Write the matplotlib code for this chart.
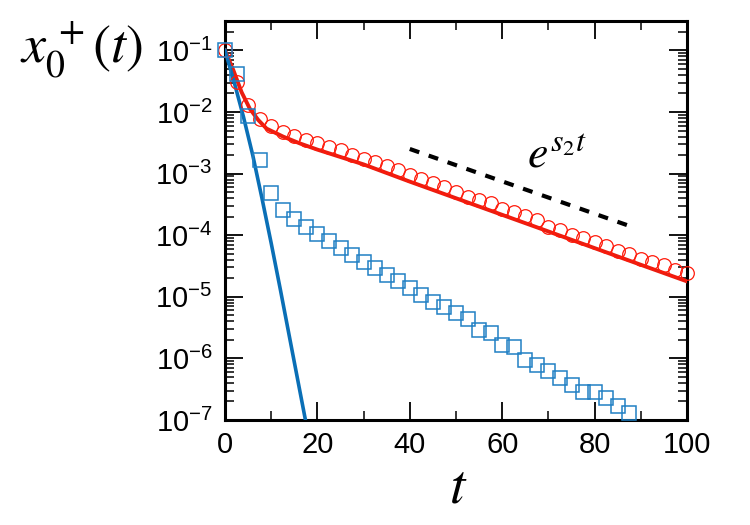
import math
import matplotlib
matplotlib.use("Agg")
import matplotlib.pyplot as plt
from matplotlib.ticker import LogLocator, MultipleLocator, FuncFormatter, NullFormatter

plt.rcParams['font.family'] = ['Liberation Sans', 'DejaVu Sans']
plt.rcParams['mathtext.fontset'] = 'custom'
plt.rcParams['mathtext.rm'] = 'Liberation Sans'
plt.rcParams['mathtext.default'] = 'it'

# red circles (sampled every 2.5)
t_circ = [0, 2.5, 5, 7.5, 10, 12.5, 15, 17.5, 20, 22.5, 25, 27.5, 30, 32.5, 35,
          37.5, 40, 42.5, 45, 47.5, 50, 52.5, 55, 57.5, 60, 62.5, 65, 67.5, 70,
          72.5, 75, 77.5, 80, 82.5, 85, 87.5, 90, 92.5, 95, 97.5, 100]
x_circ = [1.0e-1, 3.09e-2, 1.29e-2, 7.76e-3, 5.89e-3, 4.68e-3, 4.07e-3, 3.55e-3,
          3.16e-3, 2.69e-3, 2.40e-3, 2.04e-3, 1.74e-3, 1.55e-3, 1.35e-3, 1.15e-3,
          9.55e-4, 8.13e-4, 7.08e-4, 6.03e-4, 5.01e-4, 4.17e-4, 3.72e-4, 3.31e-4,
          2.69e-4, 2.40e-4, 2.04e-4, 1.74e-4, 1.38e-4, 1.20e-4, 1.02e-4, 8.91e-5,
          7.76e-5, 6.61e-5, 5.50e-5, 5.01e-5, 4.17e-5, 3.72e-5, 3.31e-5, 2.69e-5,
          2.40e-5]

# blue squares
t_sq = [0, 2.5, 5, 7.5, 10, 12.5, 15, 17.5, 20, 22.5, 25, 27.5, 30, 32.5, 35,
        37.5, 40, 42.5, 45, 47.5, 50, 52.5, 55, 57.5, 60, 62.5, 65, 67.5, 70,
        72.5, 75, 77.5, 80, 82.5, 85, 87.5]
x_sq = [1.0e-1, 4.07e-2, 8.7e-3, 1.66e-3, 4.9e-4, 2.57e-4, 1.82e-4, 1.38e-4,
        1.05e-4, 7.94e-5, 6.31e-5, 4.79e-5, 3.72e-5, 2.88e-5, 2.24e-5, 1.78e-5,
        1.38e-5, 1.07e-5, 8.32e-6, 6.76e-6, 5.37e-6, 4.37e-6, 2.88e-6, 2.57e-6,
        1.66e-6, 1.55e-6, 9.55e-7, 7.76e-7, 6.17e-7, 4.79e-7, 3.72e-7, 2.82e-7,
        2.82e-7, 2.24e-7, 1.66e-7, 1.29e-7]

# red theory curve
t_red = [0, 1.8, 3.6, 5.4, 7.2, 9, 12.6, 16.2, 20, 30, 40, 50, 60, 70, 80, 90, 100]
x_red = [1e-1, 4.79e-2, 2.09e-2, 1.12e-2, 7.41e-3, 5.37e-3, 3.98e-3, 3.09e-3,
         2.45e-3, 1.41e-3, 7.41e-4, 3.98e-4, 2.14e-4, 1.15e-4, 6.17e-5, 3.31e-5,
         1.78e-5]

# blue theory curve
t_blue = [0, 2, 4, 6, 8, 10, 12, 14, 16, 18]
x_blue = [1e-1, 3.02e-2, 8.32e-3, 2.0e-3, 3.98e-4, 7.41e-5, 1.29e-5, 2.14e-6,
          3.55e-7, 5.89e-8]

# guide line e^{s2 t}
t_guide = [40, 88.3]
x_guide = [2.51e-3, 1.35e-4]

fig = plt.figure(figsize=(7.5, 5.25), dpi=100)
ax = fig.add_axes([0.30, 0.20, 0.616, 0.76])

ax.plot(t_red, x_red, color='#ea1d10', lw=2.8, zorder=3)
ax.plot(t_blue, x_blue, color='#0a6fb6', lw=2.6, zorder=3)
ax.plot(t_circ, x_circ, ls='none', marker='o', ms=9.8, mfc='none',
        mec='#ff1a0a', mew=0.9, clip_on=False, zorder=4)
ax.plot(t_sq, x_sq, ls='none', marker='s', ms=9.5, mfc='none',
        mec='#2080c4', mew=1.1, clip_on=False, zorder=4)
ax.plot(t_guide, x_guide, color='black', lw=3, dashes=(2.4, 2.4), zorder=3)

ax.set_yscale('log')
ax.set_xlim(0, 100)
ax.set_ylim(1e-7, 0.3)

ax.xaxis.set_major_locator(MultipleLocator(20))
ax.xaxis.set_minor_locator(MultipleLocator(10))
ax.yaxis.set_major_locator(LogLocator(base=10, numticks=20))
ax.yaxis.set_minor_locator(LogLocator(base=10, subs=range(2, 10), numticks=20))
ax.yaxis.set_major_formatter(FuncFormatter(
    lambda v, p: r'$\mathregular{10^{%d}}$' % round(math.log10(v))))
ax.yaxis.set_minor_formatter(NullFormatter())

ax.tick_params(which='both', direction='in', top=True, right=True, labelsize=21)
ax.tick_params(which='major', length=13, width=1.3)
ax.tick_params(which='minor', length=6.5, width=1.1)
ax.tick_params(axis='y', which='major', pad=9)
ax.tick_params(axis='x', which='major', pad=8)
for s in ax.spines.values():
    s.set_linewidth(2.2)

ax.text(0.654, 0.634, r'$e^{s_2t}$', transform=ax.transAxes, fontsize=33,
        math_fontfamily='stix', va='baseline', ha='left')
fig.text(0.027, 0.88, r'$x_0^{\,+}(t)$', fontsize=39, math_fontfamily='stix',
         va='baseline', ha='left')
fig.text(0.611, 0.042, r'$t$', fontsize=40, math_fontfamily='stix',
         va='baseline', ha='center')

fig.savefig('out.png', dpi=100)
